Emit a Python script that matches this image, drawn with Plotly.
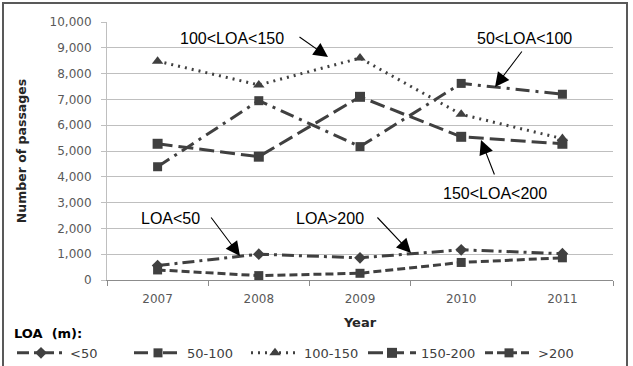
import plotly.graph_objects as go

years = ["2007", "2008", "2009", "2010", "2011"]
loa_lt50 = [560, 1000, 860, 1170, 1020]
loa_50_100 = [4390, 6950, 5170, 7620, 7200]
loa_100_150 = [8480, 7560, 8600, 6420, 5480]
loa_150_200 = [5280, 4780, 7100, 5550, 5280]
loa_gt200 = [390, 170, 260, 680, 860]

series_names = ["<50", "50-100", "100-150", "150-200", ">200"]
series_values = [loa_lt50, loa_50_100, loa_100_150, loa_150_200, loa_gt200]
series_dash = ["12px,5px,3px,5px", "14px,6px,3px,6px", "2px,5px", "15px,6px", "8px,4px"]
series_symbol = ["diamond", "square", "triangle-up", "square", "square"]
series_msize = [9, 9, 10, 10, 9]

W, H = 633, 366
L, R, T, B = 107, 20, 22, 86
pw, ph = W - L - R, H - T - B

def px_x(p):
    return (p - L) / pw

def px_y(p):
    return (H - B - p) / ph

color = "#404040"
fig = go.Figure()
for name, vals, dash, sym, ms in zip(series_names, series_values, series_dash, series_symbol, series_msize):
    fig.add_trace(go.Scatter(
        x=years, y=vals, name=name, mode="lines+markers",
        line=dict(color=color, width=3, dash=dash),
        marker=dict(symbol=sym, size=ms, color=color),
    ))

labels = [
    ("100<LOA<150", 232, 38),
    ("50<LOA<100", 524, 38),
    ("150<LOA<200", 495, 193),
    ("LOA<50", 170, 218),
    ("LOA>200", 330, 218),
]
for txt, cx, cy in labels:
    fig.add_annotation(text=txt, xref="paper", yref="paper", x=px_x(cx), y=px_y(cy),
                       showarrow=False, xanchor="center", yanchor="middle",
                       font=dict(family="Liberation Sans, Arial", size=16, color="#000000"))

arrows = [
    ((298, 36), (328, 57)),
    ((523, 50), (495, 87)),
    ((495, 176), (481, 140)),
    ((210, 216), (240, 256)),
    ((376, 216), (411, 253)),
]
for (tx, ty), (hx, hy) in arrows:
    fig.add_annotation(text="", xref="paper", yref="paper", x=px_x(hx), y=px_y(hy),
                       ax=tx - hx, ay=ty - hy, showarrow=True, arrowhead=2,
                       arrowsize=2.6, arrowwidth=1.1, arrowcolor="#000000", standoff=0)

fig.add_shape(type="rect", xref="paper", yref="paper",
              x0=px_x(3), x1=px_x(627), y0=px_y(372), y1=px_y(3),
              line=dict(color="#595959", width=2), fillcolor="rgba(0,0,0,0)", layer="below")

fig.update_layout(
    width=W, height=H,
    margin=dict(l=L, r=R, t=T, b=B, autoexpand=False),
    paper_bgcolor="white", plot_bgcolor="white",
    font=dict(family="DejaVu Sans", color="#404040"),
    showlegend=True,
    legend=dict(
        orientation="h", x=px_x(12), y=px_y(321), xanchor="left", yanchor="top",
        title=dict(text="<b>LOA  (m):</b>", side="top",
                   font=dict(family="DejaVu Sans", size=13, color="#000000")),
        font=dict(family="DejaVu Sans", size=13, color="#404040"),
        itemwidth=48, entrywidth=54, entrywidthmode="pixels",
        tracegroupgap=0, bgcolor="rgba(0,0,0,0)",
    ),
    xaxis=dict(
        type="category", range=[-0.5, 4.5], tickson="boundaries", ticks="outside", ticklen=5,
        tickcolor="#8c8c8c", showline=True, linecolor="#8c8c8c", linewidth=1,
        showgrid=False, ticklabelstandoff=8,
        tickfont=dict(family="DejaVu Sans", size=12, color="#595959"),
        title=dict(text="<b>Year</b>", standoff=12,
                   font=dict(family="DejaVu Sans", size=13, color="#262626")),
    ),
    yaxis=dict(
        range=[0, 10000], dtick=1000, tickformat=",", ticks="outside", ticklen=5,
        tickcolor="#bfbfbf", showline=True, linecolor="#bfbfbf",
        showgrid=True, gridcolor="#bfbfbf", gridwidth=1, zeroline=False,
        ticklabelstandoff=7,
        tickfont=dict(family="DejaVu Sans", size=12, color="#595959"),
        title=dict(text="<b>Number of passages</b>", standoff=20,
                   font=dict(family="DejaVu Sans", size=12.5, color="#262626")),
    ),
)

fig.write_html("out.html")
